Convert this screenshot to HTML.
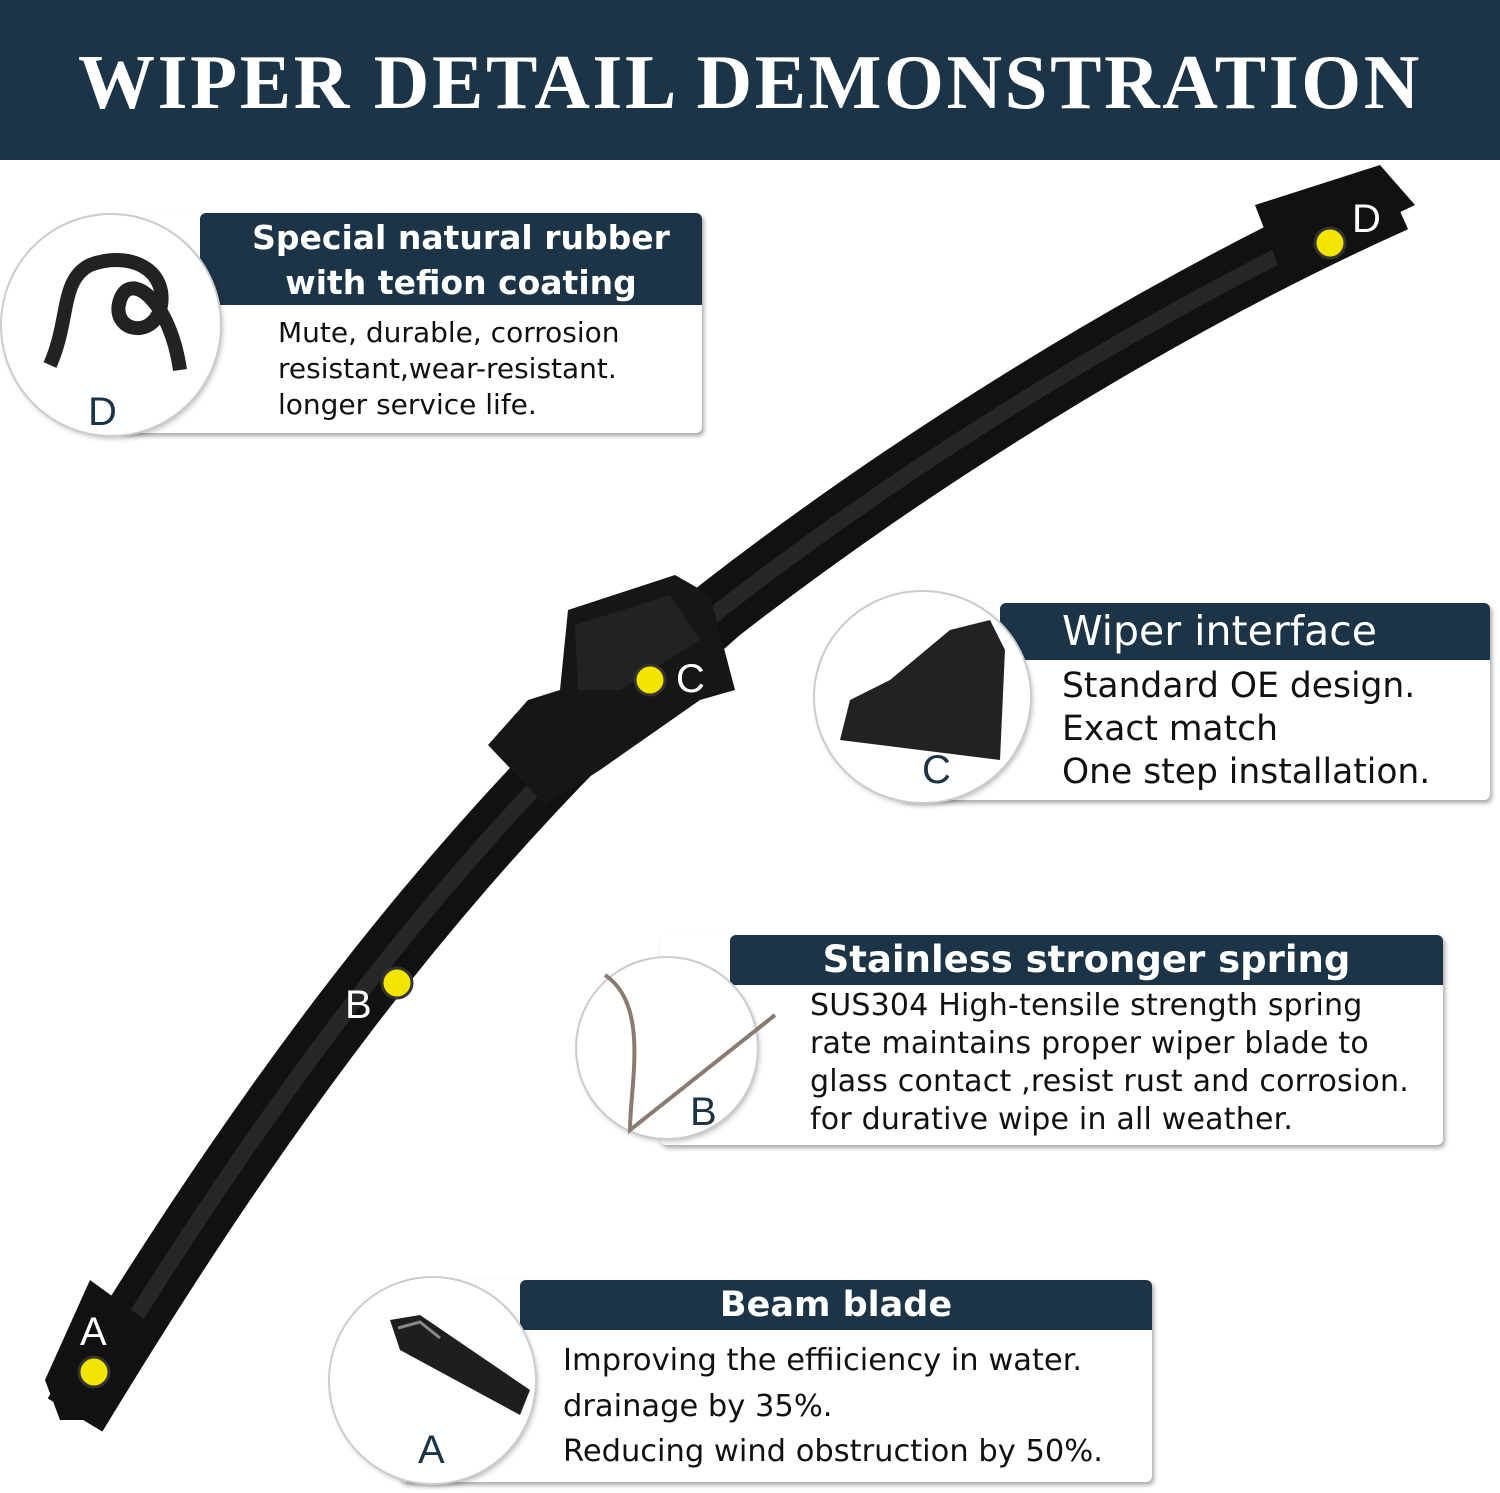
<!DOCTYPE html>
<html><head><meta charset="utf-8"><style>
body{margin:0;width:1500px;height:1493px;background:#fff;position:relative;overflow:hidden;font-family:"DejaVu Sans",sans-serif}
.hdr{position:absolute;left:0;top:0;width:1500px;height:160px;background:#1b3447}
.hdr div{position:absolute;left:0;width:1500px;top:38px;text-align:center;color:#fff;font-family:"Liberation Serif",serif;font-weight:bold;font-size:77px;letter-spacing:2.6px}
.card{position:absolute;background:#fff;box-shadow:2px 3px 5px rgba(0,0,0,.35);border-radius:6px}
.bar{position:absolute;background:#1b3447;color:#fff;font-weight:bold;text-align:center}
.txt{position:absolute;color:#111;white-space:nowrap}
.circ{position:absolute;border-radius:50%;background:#fff;box-shadow:0 0 0 2px #ccc,2px 3px 6px rgba(0,0,0,.3)}
.lab{position:absolute;color:#1b3447;font-size:40px;font-family:"Liberation Sans",sans-serif}
</style></head><body>
<div class="hdr"><div>WIPER DETAIL DEMONSTRATION</div></div>

<div class="card" style="left:120px;top:213px;width:582px;height:220px"></div>
<div class="bar" style="left:200px;top:213px;width:502px;height:92px;border-radius:6px 6px 0 0;font-size:33px;line-height:45px;padding-top:2px;box-sizing:border-box;padding-left:20px">Special natural rubber<br>with tefion coating</div>
<div class="txt" style="left:278px;top:315px;font-size:28px;line-height:36px">Mute, durable, corrosion<br>resistant,wear-resistant.<br>longer service life.</div>
<div class="circ" style="left:2px;top:215px;width:218px;height:220px"></div>
<svg style="position:absolute;left:30px;top:240px" width="170" height="140"><path d="M20 125 C40 80 30 40 60 25 C100 10 140 30 130 70 C120 100 80 90 90 60 C100 30 140 60 150 130" stroke="#222" stroke-width="14" fill="none"/></svg>
<div class="lab" style="left:88px;top:390px">D</div>

<div class="card" style="left:900px;top:603px;width:590px;height:197px"></div>
<div class="bar" style="left:1000px;top:603px;width:490px;height:57px;border-radius:6px 6px 0 0;font-size:41px;line-height:57px;text-align:left;padding-left:62px;box-sizing:border-box;font-weight:normal">Wiper interface</div>
<div class="txt" style="left:1062px;top:665px;font-size:34.5px;line-height:43px">Standard OE design.<br>Exact match<br>One step installation.</div>
<div class="circ" style="left:815px;top:592px;width:215px;height:210px"></div>
<svg style="position:absolute;left:830px;top:610px" width="180" height="150"><path d="M10 130 L20 90 L60 70 L120 20 L160 10 L175 40 L170 150 Z" fill="#222"/></svg>
<div class="lab" style="left:922px;top:748px">C</div>

<div class="card" style="left:660px;top:935px;width:783px;height:210px"></div>
<div class="bar" style="left:730px;top:935px;width:713px;height:50px;border-radius:6px 6px 0 0;font-size:37px;line-height:50px">Stainless stronger spring</div>
<div class="txt" style="left:810px;top:987px;font-size:30px;line-height:38px;letter-spacing:0.2px">SUS304 High-tensile strength spring<br>rate maintains proper wiper blade to<br>glass contact ,resist rust and corrosion.<br>for durative wipe in all weather.</div>
<div class="circ" style="left:577px;top:958px;width:180px;height:180px"></div>
<svg style="position:absolute;left:590px;top:965px" width="200" height="170"><path d="M15 10 C60 40 40 120 40 165 L185 50" stroke="#8a7a70" stroke-width="4" fill="none"/></svg>
<div class="lab" style="left:690px;top:1090px">B</div>

<div class="card" style="left:400px;top:1280px;width:752px;height:202px"></div>
<div class="bar" style="left:520px;top:1280px;width:632px;height:50px;border-radius:6px 6px 0 0;font-size:35px;line-height:50px">Beam blade</div>
<div class="txt" style="left:563px;top:1338px;font-size:30.5px;line-height:45.5px">Improving the effiiciency in water.<br>drainage by 35%.<br>Reducing wind obstruction by 50%.</div>
<div class="circ" style="left:330px;top:1278px;width:205px;height:205px"></div>
<svg style="position:absolute;left:380px;top:1310px" width="160" height="110"><path d="M10 10 L40 5 L150 80 L140 105 L20 40 Z" fill="#1e1e1e"/><path d="M18 18 L40 12 L60 28" stroke="#888" stroke-width="3" fill="none"/></svg>
<div class="lab" style="left:418px;top:1428px">A</div>

<svg style="position:absolute;left:0;top:0" width="1500" height="1493">
<path d="M75 1415 C230 1160 430 860 720 610 C900 470 1150 310 1395 200" stroke="#111" stroke-width="64" fill="none" stroke-linecap="butt"/>
<path d="M75 1415 C230 1160 430 860 720 610 C900 470 1150 310 1395 200" stroke="#262626" stroke-width="16" fill="none"/>
<polygon points="1255,205 1380,165 1415,205 1280,270" fill="#111"/>
<polygon points="45,1380 90,1280 145,1320 105,1420 60,1420" fill="#111"/>
<polygon points="488,745 528,700 560,690 568,610 675,575 710,595 735,690 700,700 600,770 545,805" fill="#161616"/>
<polygon points="575,625 670,595 700,640 620,690 578,690" fill="#222"/>
<g fill="#f2e600" stroke="#333" stroke-width="3">
<circle cx="1330" cy="243" r="15"/><circle cx="650" cy="680" r="15"/><circle cx="397" cy="983" r="15"/><circle cx="94" cy="1372" r="15"/></g>
<g fill="#fff" font-family="Liberation Sans" font-size="40">
<text x="1352" y="232">D</text><text x="676" y="692">C</text><text x="345" y="1018">B</text><text x="80" y="1345">A</text></g>
</svg>
</body></html>
